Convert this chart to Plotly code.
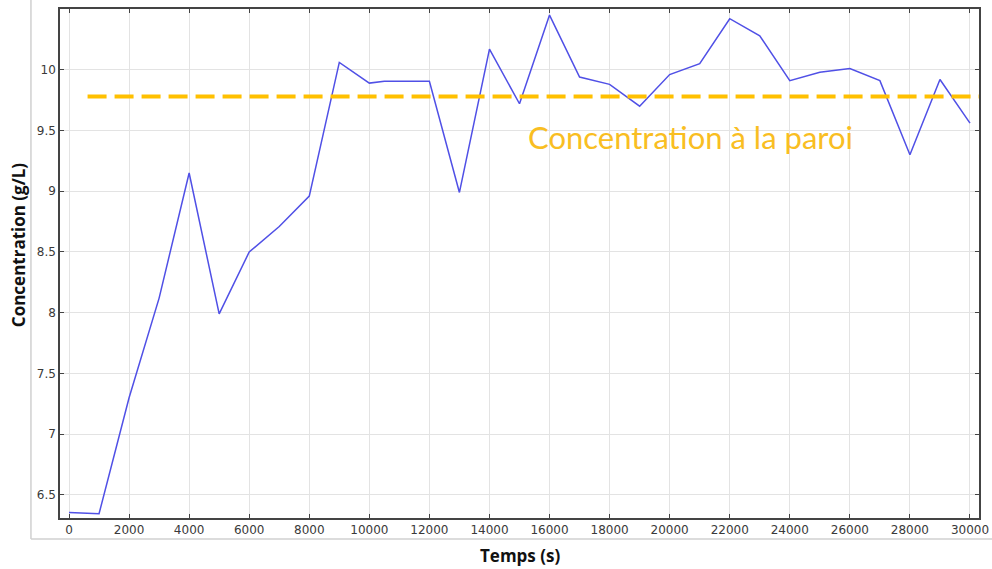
import plotly.graph_objects as go

# Data
temps_s = [0, 500, 1000, 2000, 3000, 4000, 5000, 6000, 7000, 8000, 9000, 10000, 10500,
           12000, 13000, 14000, 15000, 16000, 17000, 18000, 19000, 20000, 21000, 22000,
           23000, 24000, 25000, 26000, 27000, 28000, 29000, 30000]
concentration = [6.355, 6.35, 6.345, 7.30, 8.12, 9.15, 7.99, 8.50, 8.71, 8.96, 10.06, 9.89, 9.905,
                 9.905, 8.99, 10.17, 9.72, 10.45, 9.94, 9.88, 9.70, 9.96, 10.05, 10.42,
                 10.28, 9.91, 9.98, 10.01, 9.91, 9.30, 9.92, 9.56]
wall_concentration = 9.78
wall_label = "Concentration à la paroi"
x_title = "Temps (s)"
y_title = "Concentration (g/L)"
x_ticks = list(range(0, 30001, 2000))
y_ticks = [6.5, 7, 7.5, 8, 8.5, 9, 9.5, 10]

fig = go.Figure()
fig.add_trace(go.Scatter(
    x=temps_s, y=concentration, mode="lines",
    line=dict(color="#5050e6", width=1.5),
    showlegend=False, hoverinfo="skip",
))

fig.add_shape(type="line", xref="paper", yref="y",
              x0=0.03, x1=1.0, y0=wall_concentration, y1=wall_concentration,
              line=dict(color="#FFC000", width=4, dash="19px,8px"), layer="above")

fig.add_annotation(x=20700, y=9.45, xref="x", yref="y", text=wall_label,
                   showarrow=False, font=dict(family="Lato", size=31, color="#F9BE22"))

axis_common = dict(
    showline=True, linecolor="#444", linewidth=1.5, mirror="ticks",
    ticks="inside", ticklen=4, tickcolor="#444", tickwidth=1,
    showgrid=True, gridcolor="#e3e3e3", gridwidth=1, zeroline=False,
    tickfont=dict(family="DejaVu Sans", size=12, color="#3a3a3a"),
)

fig.update_xaxes(range=[-300, 30300], tickvals=x_ticks,
                 ticktext=[str(v) for v in x_ticks], **axis_common)
fig.update_yaxes(range=[6.31, 10.5], tickvals=y_ticks,
                 ticktext=[("%g" % v) for v in y_ticks], **axis_common)

# axis titles
fig.add_annotation(x=0.5, y=-0.0727, xref="paper", yref="paper", text="<b>%s</b>" % x_title,
                   showarrow=False, yanchor="middle",
                   font=dict(family="Open Sans", size=17, color="#111"))
fig.add_annotation(x=-0.0457, y=0.536, xref="paper", yref="paper", text="<b>%s</b>" % y_title,
                   showarrow=False, textangle=-90, xanchor="center",
                   font=dict(family="Open Sans", size=17, color="#111"))

# light outer frame
fig.add_shape(type="line", xref="paper", yref="paper", x0=-0.0316, x1=-0.0316, y0=-0.0413, y1=1.1,
              line=dict(color="#d0d0d0", width=1.5), layer="below")
fig.add_shape(type="line", xref="paper", yref="paper", x0=-0.0316, x1=1.2, y0=-0.0413, y1=-0.0413,
              line=dict(color="#d0d0d0", width=1.5), layer="below")

fig.update_layout(
    width=992, height=569,
    margin=dict(l=60, r=13, t=9, b=51, autoexpand=False),
    plot_bgcolor="white", paper_bgcolor="white",
)

fig.write_html("out.html", config={"displayModeBar": False},
               post_script="document.body.style.margin='0px';document.body.style.overflow='hidden';")
